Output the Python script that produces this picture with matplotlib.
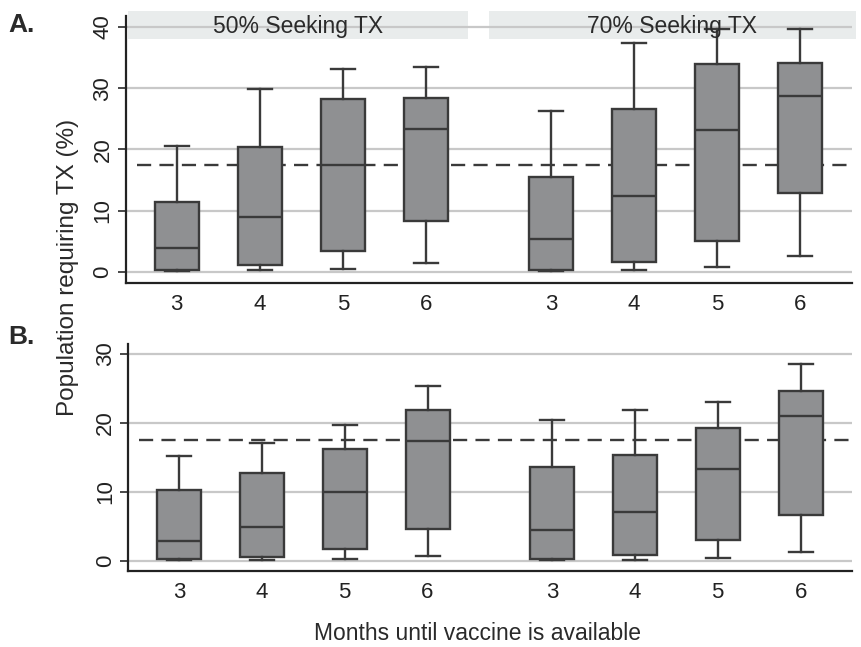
import matplotlib
matplotlib.use("Agg")
import matplotlib.pyplot as plt
from matplotlib.patches import Rectangle

plt.rcParams['font.family'] = ['Liberation Sans', 'DejaVu Sans']

months = [3, 4, 5, 6]
groups = ["50% Seeking TX", "70% Seeking TX"]
threshold = 17.5

# Panel A: [whislo, q1, med, q3, whishi] per month, per group
A_50 = {"whislo": [0.05, 0.2, 0.5, 1.4], "q1": [0.2, 1.1, 3.3, 8.3],
        "med": [3.9, 8.9, 17.4, 23.4], "q3": [11.4, 20.4, 28.2, 28.4],
        "whishi": [20.6, 29.9, 33.1, 33.4]}
A_70 = {"whislo": [0.05, 0.2, 0.7, 2.5], "q1": [0.3, 1.6, 5.0, 12.9],
        "med": [5.3, 12.4, 23.2, 28.8], "q3": [15.4, 26.6, 33.9, 34.1],
        "whishi": [26.2, 37.4, 39.6, 39.6]}
# Panel B
B_50 = {"whislo": [0.1, 0.15, 0.25, 0.73], "q1": [0.2, 0.5, 1.75, 4.55],
        "med": [2.8, 4.9, 9.9, 17.4], "q3": [10.2, 12.7, 16.2, 21.8],
        "whishi": [15.2, 17.1, 19.7, 25.4]}
B_70 = {"whislo": [0.15, 0.15, 0.45, 1.3], "q1": [0.3, 0.8, 3.0, 6.6],
        "med": [4.45, 7.0, 13.3, 21.0], "q3": [13.6, 15.3, 19.3, 24.6],
        "whishi": [20.4, 21.9, 23.0, 28.5]}

positions = [0, 1, 2, 3, 4.5, 5.5, 6.5, 7.5]
xlim = (-0.61, 8.12)

BOX_FC = "#8f9092"
EDGE = "#3a3a3a"
GRID = "#c8c8c8"

fig = plt.figure(figsize=(8.61, 6.47), dpi=100)
W, H = 861, 647

def px_axes(l, t, r, b):
    return fig.add_axes([l / W, 1 - b / H, (r - l) / W, (b - t) / H])

def make_stats(d1, d2):
    stats = []
    for d in (d1, d2):
        for i in range(len(months)):
            stats.append(dict(whislo=d["whislo"][i], q1=d["q1"][i], med=d["med"][i],
                              q3=d["q3"][i], whishi=d["whishi"][i], fliers=[]))
    return stats

def draw(ax, d1, d2, ylim, yticks):
    ax.set_xlim(*xlim)
    ax.set_ylim(*ylim)
    for y in yticks:
        ax.axhline(y, color=GRID, lw=1.6, zorder=1)
    ax.plot([-0.48, xlim[1]], [threshold, threshold], color=EDGE, lw=1.7,
            ls=(0, (6, 3.5)), zorder=2)
    stats = make_stats(d1, d2)
    ax.bxp(stats, positions=positions, widths=0.53, capwidths=0.29,
           patch_artist=True, showfliers=False, manage_ticks=False,
           boxprops=dict(facecolor=BOX_FC, edgecolor=EDGE, lw=1.7),
           medianprops=dict(color=EDGE, lw=1.7),
           whiskerprops=dict(color=EDGE, lw=1.7),
           capprops=dict(color=EDGE, lw=1.7), zorder=3)
    ax.set_xticks(positions)
    ax.set_xticklabels([str(m) for m in months] * 2)
    ax.set_yticks(yticks)
    ax.set_yticklabels([str(y) for y in yticks], rotation=90, va="center")
    ax.tick_params(axis="x", length=0, pad=8, labelsize=16, colors="#222222")
    ax.tick_params(axis="y", length=6, width=1.3, pad=3, labelsize=16,
                   colors="#222222", color=EDGE)
    for s in ("top", "right"):
        ax.spines[s].set_visible(False)
    for s in ("left", "bottom"):
        ax.spines[s].set_color("#222222")
        ax.spines[s].set_linewidth(1.6)

axA = px_axes(126, 16, 852, 283)
draw(axA, A_50, A_70, (-1.85, 41.8), [0, 10, 20, 30, 40])

# strip titles
strips = [(-0.59, 3.5), (3.75, 8.17)]
for (x0, x1), g in zip(strips, groups):
    axA.add_patch(Rectangle((x0, 38.1), x1 - x0, 4.5, facecolor="#e9ecec",
                            edgecolor="none", clip_on=False, zorder=0.5))
    axA.text((x0 + x1) / 2, 40.1, g, ha="center", va="center", fontsize=16.5,
             color="#2a2a2a", zorder=4, clip_on=False)

axB = px_axes(128.3, 344.3, 852, 570.7)
draw(axB, B_50, B_70, (-1.45, 31.4), [0, 10, 20, 30])

fig.text(8 / W, 1 - 25 / H, "A.", fontsize=19, fontweight="bold", color="#2a2a2a",
         ha="left", va="center")
fig.text(8 / W, 1 - 337 / H, "B.", fontsize=19, fontweight="bold", color="#2a2a2a",
         ha="left", va="center")
fig.text(68 / W, 1 - 267 / H, "Population requiring TX (%)", rotation=90,
         fontsize=17.5, color="#2a2a2a", ha="center", va="center")
fig.text(478 / W, 1 - 633 / H, "Months until vaccine is available",
         fontsize=16.5, color="#2a2a2a", ha="center", va="center")

fig.savefig("out.png", dpi=100)
